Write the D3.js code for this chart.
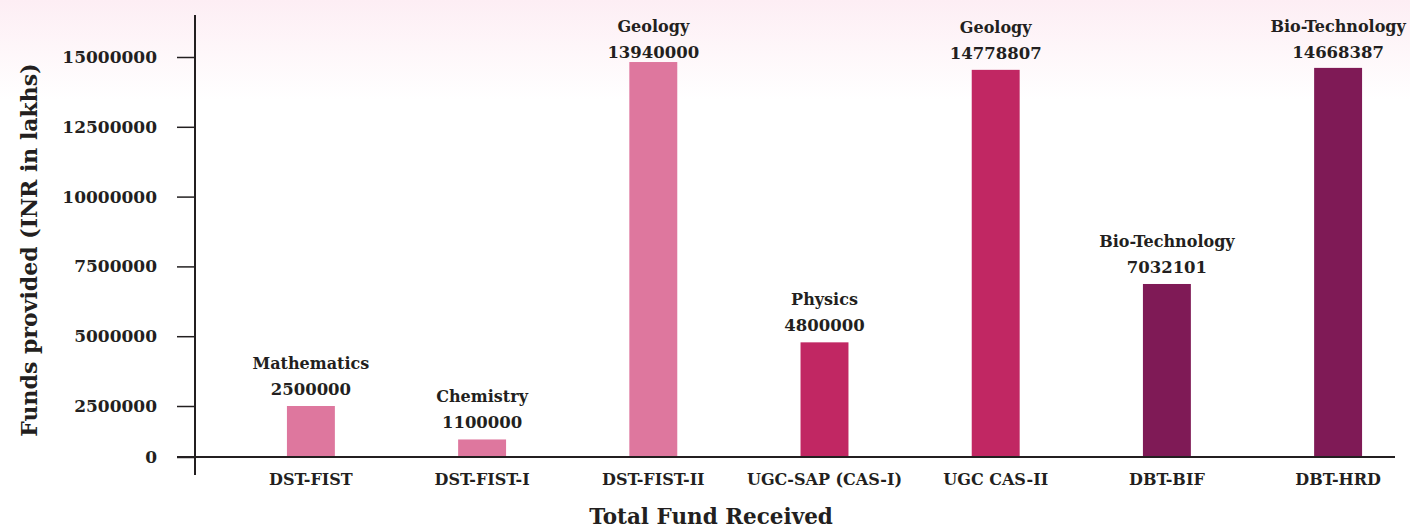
<!DOCTYPE html>
<html>
<head>
<meta charset="utf-8">
<script src="https://cdn.jsdelivr.net/npm/d3@7"></script>
<style>
  html, body { margin: 0; padding: 0; background: #fff; }
  svg { display: block; }
  text { font-family: "DejaVu Serif", serif; font-weight: bold; fill: #231f20; }
</style>
</head>
<body>
<svg id="chart" width="1410" height="529"></svg>
<script>
// ---- data ----
const categories = ["DST-FIST", "DST-FIST-I", "DST-FIST-II", "UGC-SAP (CAS-I)", "UGC CAS-II", "DBT-BIF", "DBT-HRD"];
const departments = ["Mathematics", "Chemistry", "Geology", "Physics", "Geology", "Bio-Technology", "Bio-Technology"];
const fundLabels = ["2500000", "1100000", "13940000", "4800000", "14778807", "7032101", "14668387"];
const barValues = [2500000, 860000, 14820000, 4780000, 14540000, 6870000, 14610000];
const yTicks = [0, 2500000, 5000000, 7500000, 10000000, 12500000, 15000000];
const agencies = ["DST", "UGC", "DBT"];

// ---- layout / style ----
const W = 1410, H = 529;
const agencyColors = ["#de779e", "#c12763", "#7f1a56"];
const svg = d3.select("#chart");

const defs = svg.append("defs");
const grad = defs.append("linearGradient").attr("id", "bg").attr("x1", 0).attr("y1", 0).attr("x2", 0).attr("y2", 1);
grad.append("stop").attr("offset", "0%").attr("stop-color", "#fdeef4");
grad.append("stop").attr("offset", "100%").attr("stop-color", "#ffffff");
svg.append("rect").attr("width", W).attr("height", 100).attr("fill", "url(#bg)");

const axisX = 195, baseY = 457;
const x = d3.scaleBand().domain(categories).range([axisX, 1454]).paddingInner(0.72).paddingOuter(0.537);
const y = d3.scaleLinear().domain([0, 2500000, 15000000]).range([baseY, 406, 57]);
const color = d3.scaleOrdinal().domain(agencies).range(agencyColors);

// bars
const data = categories.map((c, i) => ({ c, dept: departments[i], label: fundLabels[i], v: barValues[i] }));
svg.append("g").selectAll("rect").data(data).join("rect")
  .attr("x", d => x(d.c))
  .attr("y", d => y(d.v))
  .attr("width", x.bandwidth())
  .attr("height", d => baseY - y(d.v))
  .attr("fill", d => color(d.c.slice(0, 3)));

// y axis
const yAxis = d3.axisLeft(y).tickValues(yTicks).tickSize(18).tickPadding(20).tickFormat(d3.format("d"));
const gy = svg.append("g").attr("transform", `translate(${axisX},0)`).call(yAxis);
gy.select(".domain").remove();
gy.selectAll(".tick line").attr("stroke", "#231f20").attr("stroke-width", 1.5);
gy.selectAll(".tick text").style("font-size", "17px").style("font-family", "DejaVu Serif").style("font-weight", "bold").attr("fill", "#231f20");
svg.append("line").attr("x1", axisX).attr("x2", axisX).attr("y1", 15).attr("y2", 475)
  .attr("stroke", "#231f20").attr("stroke-width", 2);

// x axis
const xAxis = d3.axisBottom(x).tickSize(0).tickPadding(17);
const gx = svg.append("g").attr("transform", `translate(0,${baseY})`).call(xAxis);
gx.select(".domain").remove();
gx.selectAll(".tick text").style("font-size", "16px").style("font-family", "DejaVu Serif").style("font-weight", "bold").attr("fill", "#231f20");
svg.append("line").attr("x1", 177).attr("x2", 1395).attr("y1", baseY).attr("y2", baseY)
  .attr("stroke", "#231f20").attr("stroke-width", 2);

// value labels
const lab = svg.append("g").selectAll("g").data(data).join("g")
  .attr("transform", d => `translate(${x(d.c) + x.bandwidth() / 2},${Math.max(y(d.v) - 11, 58)})`);
lab.append("text").attr("text-anchor", "middle").style("font-size", "16.5px").text(d => d.label);
lab.append("text").attr("text-anchor", "middle").attr("y", -26).style("font-size", "16px").text(d => d.dept);

// titles
svg.append("text").attr("x", 711).attr("y", 524).attr("text-anchor", "middle")
  .style("font-size", "21.5px").text("Total Fund Received");
svg.append("text").attr("transform", "translate(37,250) rotate(-90)").attr("text-anchor", "middle")
  .style("font-size", "22px").text("Funds provided (INR in lakhs)");
</script>
</body>
</html>
